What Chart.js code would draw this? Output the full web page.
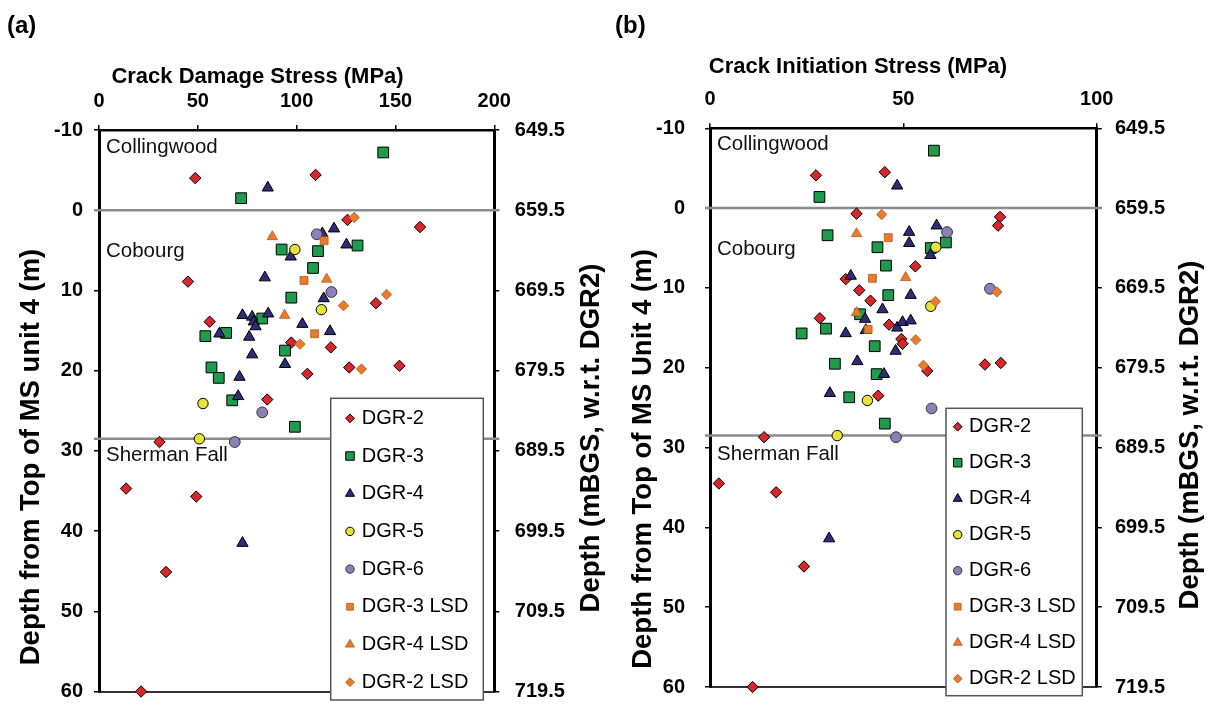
<!DOCTYPE html>
<html>
<head>
<meta charset="utf-8">
<title>Crack stress vs depth</title>
<script src="https://cdn.jsdelivr.net/npm/chart.js@4.4.1/dist/chart.umd.min.js"></script>
<style>
  html, body { margin: 0; padding: 0; background: #fff; }
  #wrap { position: relative; width: 1212px; height: 719px; overflow: hidden; }
  canvas { position: absolute; top: 0; }
  #chartA { left: 0; }
  #chartB { left: 606px; }
</style>
</head>
<body>
<div id="wrap">
  <canvas id="chartA" width="606" height="719"></canvas>
  <canvas id="chartB" width="606" height="719"></canvas>
</div>
<script>
const seriesNames = ['DGR-2', 'DGR-3', 'DGR-4', 'DGR-5', 'DGR-6', 'DGR-3 LSD', 'DGR-4 LSD', 'DGR-2 LSD']

// depth axis (m below top of MS unit 4) and the matching mBGS labels
const depthTicks = [-10, 0, 10, 20, 30, 40, 50, 60]
const mbgsTicks = ['649.5', '659.5', '669.5', '679.5', '689.5', '699.5', '709.5', '719.5']
const damageTicks = [0, 50, 100, 150, 200]
const initiationTicks = [0, 50, 100]

const formationNames = ['Collingwood', 'Cobourg', 'Sherman Fall']
const formationTops = [0, 28.5]

// crack damage stress [MPa, depth m]
const cdDGR2 = [[48.7, -4.0], [109.6, -4.4], [125.7, 1.2], [162.4, 2.1], [45.0, 8.9], [140.1, 11.6], [56.0, 13.9], [97.3, 16.5], [117.3, 17.1], [105.4, 20.4], [126.6, 19.6], [152.0, 19.4], [85.1, 23.6], [30.6, 28.9], [13.7, 34.7], [49.2, 35.7], [33.9, 45.1], [21.3, 60.0]]
const cdDGR3 = [[143.8, -7.2], [71.9, -1.5], [130.8, 4.4], [92.4, 4.9], [110.8, 5.1], [108.3, 7.2], [97.3, 10.9], [82.6, 13.5], [53.8, 15.7], [64.3, 15.3], [94.1, 17.5], [56.9, 19.6], [60.6, 20.9], [67.4, 23.7], [99.1, 27.0]]
const cdDGR4 = [[85.4, -2.8], [113.0, 2.9], [118.9, 2.3], [125.2, 4.3], [97.0, 5.8], [83.9, 8.4], [113.7, 11.0], [72.6, 13.1], [77.5, 13.3], [85.6, 12.9], [78.3, 13.9], [79.2, 14.5], [102.9, 14.2], [116.9, 15.1], [60.9, 15.4], [76.0, 15.8], [77.5, 18.0], [94.1, 19.2], [71.1, 20.8], [70.4, 23.2], [72.6, 41.5]]
const cdDGR5 = [[99.1, 4.9], [112.5, 12.4], [52.6, 24.1], [50.8, 28.5]]
const cdDGR6 = [[110.2, 3.0], [117.6, 10.2], [82.6, 25.2], [68.7, 28.9]]
const cdDGR3LSD = [[113.9, 3.8], [103.7, 8.75], [109.1, 15.4]]
const cdDGR4LSD = [[87.7, 3.3], [115.2, 8.6], [93.9, 13.1]]
const cdDGR2LSD = [[129.1, 0.9], [145.5, 10.5], [123.7, 11.9], [101.7, 16.7], [132.8, 19.8]]

// crack initiation stress [MPa, depth m]
const ciDGR2 = [[27.4, -4.1], [45.2, -4.5], [37.9, 0.7], [75.0, 1.1], [74.5, 2.2], [53.1, 7.3], [35.1, 8.9], [38.6, 10.3], [41.5, 11.6], [28.4, 13.8], [46.3, 14.6], [49.5, 16.4], [49.8, 17.0], [56.2, 20.4], [71.1, 19.6], [75.2, 19.4], [43.5, 23.5], [14.0, 28.7], [2.3, 34.5], [17.1, 35.6], [24.3, 44.9], [11.0, 60.0]]
const ciDGR3 = [[57.9, -7.2], [28.3, -1.4], [30.4, 3.4], [43.3, 4.9], [61.0, 4.3], [57.1, 5.0], [45.5, 7.2], [46.1, 10.9], [38.8, 13.3], [23.7, 15.7], [30.0, 15.1], [42.6, 17.3], [32.3, 19.5], [43.1, 20.8], [36.0, 23.7], [45.2, 27.0]]
const ciDGR4 = [[48.4, -2.8], [58.6, 2.2], [51.5, 3.0], [51.5, 4.4], [57.0, 5.9], [36.4, 8.5], [51.9, 10.9], [44.6, 12.7], [40.1, 13.9], [40.3, 15.3], [48.4, 15.0], [49.8, 14.3], [51.9, 14.1], [35.1, 15.7], [48.0, 17.9], [38.1, 19.2], [45.0, 20.8], [31.0, 23.2], [30.8, 41.4]]
const ciDGR5 = [[58.4, 4.9], [57.1, 12.3], [40.7, 24.1], [32.9, 28.5]]
const ciDGR6 = [[61.3, 3.0], [72.4, 10.1], [57.3, 25.1], [48.1, 28.7]]
const ciDGR3LSD = [[46.1, 3.7], [42.0, 8.8], [40.9, 15.2]]
const ciDGR4LSD = [[37.9, 3.2], [50.6, 8.7], [37.9, 13.1]]
const ciDGR2LSD = [[44.4, 0.8], [74.2, 10.5], [58.3, 11.7], [53.2, 16.5], [55.2, 19.7]]

const FONT = '"Liberation Sans", Arial, Helvetica, sans-serif'
const orange = '#e87b2c'
const orangeEdge = '#b35a1e'

// marker look per series, same order as seriesNames
const markers = [
  { style: 'rectRot', r: 5.7, lr: 4.4, fill: '#d9262b', edge: '#000', bw: 1 },
  { style: 'rect', r: 7.6, lr: 6, fill: '#1e9b4c', edge: '#000', bw: 1 },
  { style: 'triangle', r: 6.5, lr: 5.2, fill: '#2e2d7a', edge: '#000', bw: 1 },
  { style: 'circle', r: 5.2, lr: 4.2, fill: '#e4e43a', edge: '#000', bw: 1 },
  { style: 'circle', r: 5.4, lr: 4.2, fill: '#8d80b9', edge: '#333', bw: 1 },
  { style: 'rect', r: 5.6, lr: 4.8, fill: orange, edge: orangeEdge, bw: 0.8 },
  { style: 'triangle', r: 6, lr: 5.2, fill: orange, edge: orangeEdge, bw: 0.8 },
  { style: 'rectRot', r: 5.2, lr: 4.4, fill: orange, edge: orangeEdge, bw: 0.8 }
]

const panelDecor = {
  id: 'panelDecor',
  beforeDatasetsDraw(chart, args, opts) {
    const {ctx, chartArea: a} = chart
    const y = chart.scales.y
    ctx.save()
    ctx.strokeStyle = '#8c8c8c'
    ctx.lineWidth = 2.5
    formationTops.forEach(d => {
      const py = y.getPixelForValue(d)
      ctx.beginPath()
      ctx.moveTo(a.left - 5, py)
      ctx.lineTo(a.right + 5, py)
      ctx.stroke()
    })
    ctx.font = '20.5px ' + FONT
    ctx.fillStyle = '#111'
    ctx.textBaseline = 'middle'
    formationNames.forEach((name, i) => {
      ctx.fillText(name, a.left + 7, y.getPixelForValue(opts.labelDepths[i]))
    })
    ctx.restore()
  },
  afterDraw(chart, args, opts) {
    const ctx = chart.ctx
    const lg = opts.legend
    ctx.save()
    // legend box
    ctx.fillStyle = '#fff'
    ctx.fillRect(lg.x, lg.y, lg.w, lg.h)
    ctx.strokeStyle = '#555'
    ctx.lineWidth = 1.5
    ctx.strokeRect(lg.x, lg.y, lg.w, lg.h)
    ctx.font = '20px ' + FONT
    ctx.textBaseline = 'middle'
    chart.data.datasets.forEach((ds, i) => {
      const m = markers[i]
      const cy = lg.y + lg.first + i * lg.step
      ctx.fillStyle = m.fill
      ctx.strokeStyle = m.edge
      ctx.lineWidth = m.bw
      Chart.helpers.drawPoint(ctx, {pointStyle: m.style, rotation: 0, radius: m.lr, borderWidth: m.bw}, lg.x + lg.mx, cy)
      ctx.fillStyle = '#000'
      ctx.fillText(ds.label, lg.x + lg.tx, cy)
    })
    // panel letter and axis titles
    ctx.fillStyle = '#000'
    opts.titles.forEach(t => {
      ctx.save()
      ctx.font = t.font + ' ' + FONT
      ctx.textBaseline = 'middle'
      ctx.textAlign = t.align || 'center'
      ctx.translate(t.x, t.y)
      if (t.vertical) ctx.rotate(-Math.PI / 2)
      ctx.fillText(t.text, 0, 0)
      ctx.restore()
    })
    ctx.restore()
  }
}

const tickFont = { family: FONT, size: 20, weight: 'bold' }

const buildPanel = (canvasId, cfg) => {
  const canvas = document.getElementById(canvasId)
  const datasets = cfg.series.map((pts, i) => ({
    label: seriesNames[i],
    data: pts.map(([x, y]) => ({x, y})),
    pointStyle: markers[i].style,
    pointRadius: markers[i].r,
    pointBackgroundColor: markers[i].fill,
    pointBorderColor: markers[i].edge,
    pointBorderWidth: markers[i].bw,
    showLine: false,
    order: seriesNames.length - i,
    clip: false
  }))

  const depthScale = (position, width, extra) => Object.assign({
    type: 'linear',
    axis: 'y',
    position,
    min: -10,
    max: 60,
    reverse: true,
    afterBuildTicks: s => { s.ticks = depthTicks.map(v => ({value: v})) },
    afterFit: s => { s.width = width },
    grid: { drawOnChartArea: false, tickLength: 5, color: '#000', lineWidth: 1.5 },
    border: { color: '#000', width: 3 }
  }, extra)

  return new Chart(canvas, {
    type: 'scatter',
    data: { datasets },
    options: {
      responsive: false,
      animation: false,
      events: [],
      layout: { padding: { left: 0, right: 0, top: 0, bottom: canvas.height - cfg.area.bottom } },
      scales: {
        x: {
          type: 'linear',
          position: 'top',
          min: 0,
          max: cfg.xTicks[cfg.xTicks.length - 1],
          afterBuildTicks: s => { s.ticks = cfg.xTicks.map(v => ({value: v})) },
          afterFit: s => { s.height = cfg.area.top },
          ticks: { font: tickFont, color: '#000', padding: 11.5, maxRotation: 0, autoSkip: false },
          grid: { drawOnChartArea: false, tickLength: 5, color: '#000', lineWidth: 1.5 },
          border: { color: '#000', width: 2.5 }
        },
        xb: {
          type: 'linear',
          axis: 'x',
          position: 'bottom',
          min: 0,
          max: cfg.xTicks[cfg.xTicks.length - 1],
          afterFit: s => { s.height = 0 },
          ticks: { display: false },
          grid: { display: false },
          border: { color: '#333', width: 2 }
        },
        y: depthScale('left', cfg.area.left, {
          ticks: { font: tickFont, color: '#000', padding: cfg.leftPad }
        }),
        yr: depthScale('right', canvas.width - cfg.area.right, {
          ticks: {
            font: tickFont,
            color: '#000',
            padding: cfg.rightPad,
            callback: v => mbgsTicks[depthTicks.indexOf(v)]
          }
        })
      },
      plugins: {
        legend: { display: false },
        tooltip: { enabled: false },
        panelDecor: { labelDepths: cfg.labelDepths, legend: cfg.legend, titles: cfg.titles }
      }
    },
    plugins: [panelDecor]
  })
}

buildPanel('chartA', {
  series: [cdDGR2, cdDGR3, cdDGR4, cdDGR5, cdDGR6, cdDGR3LSD, cdDGR4LSD, cdDGR2LSD],
  xTicks: damageTicks,
  area: { left: 99, top: 130, right: 494.3, bottom: 706.7 },
  leftPad: 11,
  rightPad: 15.5,
  labelDepths: [-7.8, 5.1, 30.6],
  legend: { x: 330.7, y: 398.3, w: 152.6, h: 301.7, first: 20, step: 37.7, mx: 19.3, tx: 31 },
  titles: [
    { text: '(a)', x: 7, y: 26, font: 'bold 24px', align: 'left' },
    { text: 'Crack Damage Stress (MPa)', x: 257.5, y: 77, font: 'bold 22px' },
    { text: 'Depth from Top of MS unit 4 (m)', x: 31, y: 457, font: 'bold 27.5px', vertical: true },
    { text: 'Depth (mBGS, w.r.t. DGR2)', x: 591, y: 438, font: 'bold 27.5px', vertical: true }
  ]
})

buildPanel('chartB', {
  series: [ciDGR2, ciDGR3, ciDGR4, ciDGR5, ciDGR6, ciDGR3LSD, ciDGR4LSD, ciDGR2LSD],
  xTicks: initiationTicks,
  area: { left: 104, top: 128.3, right: 490.7, bottom: 702.7 },
  leftPad: 20,
  rightPad: 13.3,
  labelDepths: [-8.0, 5.15, 30.8],
  legend: { x: 340, y: 408.3, w: 136.3, h: 287.4, first: 18.4, step: 36, mx: 11.7, tx: 23 },
  titles: [
    { text: '(b)', x: 9, y: 26, font: 'bold 24px', align: 'left' },
    { text: 'Crack Initiation Stress (MPa)', x: 252, y: 67, font: 'bold 22px' },
    { text: 'Depth from Top of MS Unit 4 (m)', x: 37, y: 459, font: 'bold 27.5px', vertical: true },
    { text: 'Depth (mBGS, w.r.t. DGR2)', x: 584, y: 435, font: 'bold 27.5px', vertical: true }
  ]
})
</script>
</body>
</html>
